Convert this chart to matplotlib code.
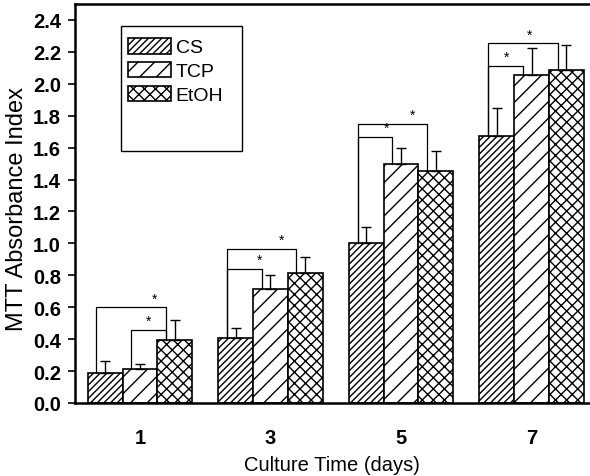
import matplotlib
matplotlib.use("Agg")
import matplotlib.pyplot as plt
from matplotlib.patches import Rectangle
import numpy as np

days = ["1", "3", "5", "7"]
series = ["CS", "TCP", "EtOH"]
cs_vals = [0.19, 0.41, 1.00, 1.67]
tcp_vals = [0.21, 0.715, 1.495, 2.055]
etoh_vals = [0.395, 0.815, 1.455, 2.085]
cs_err = [0.075, 0.06, 0.10, 0.18]
tcp_err = [0.035, 0.09, 0.105, 0.17]
etoh_err = [0.125, 0.10, 0.125, 0.16]

# significance brackets: (day index, from series, to series, bracket height, star position fraction)
brackets = [
    (0, 0, 2, 0.60, 0.84), (0, 1, 2, 0.46, 0.49),
    (1, 0, 2, 0.965, 0.78), (1, 0, 1, 0.842, 0.93),
    (2, 0, 2, 1.748, 0.79), (2, 0, 1, 1.667, 0.82),
    (3, 0, 2, 2.254, 0.59), (3, 0, 1, 2.113, 0.54),
]

plt.rcParams['font.family'] = ['Liberation Sans', 'DejaVu Sans']
plt.rcParams['hatch.linewidth'] = 1.0

fig = plt.figure(figsize=(5.9, 4.77), dpi=100)
ax = fig.add_axes([75/590, 1-404/477, 514/590, 399/477])

x = np.arange(len(days))
w = 0.266
vals = [cs_vals, tcp_vals, etoh_vals]
errs = [cs_err, tcp_err, etoh_err]
hatches = ['/////', '//', 'xxx']
for i, (v, e, h, lab) in enumerate(zip(vals, errs, hatches, series)):
    xs = x + (i - 1) * w
    ax.bar(xs, v, width=w, facecolor='white', edgecolor='black', hatch=h,
           linewidth=1.2, label=lab, zorder=2)
    ax.errorbar(xs, v, yerr=[np.zeros(len(v)), e], fmt='none', ecolor='black',
                elinewidth=1.0, capsize=3.5, capthick=1.0, zorder=3)

for g, a, b, hgt, sf in brackets:
    xa = x[g] + (a - 1) * w - w / 2 + 0.25 * w
    xb = x[g] + (b - 1) * w - w / 2 + 0.25 * w
    ya = vals[a][g]
    yb = vals[b][g]
    ax.plot([xa, xa, xb, xb], [ya, hgt, hgt, yb], color='black', lw=0.9, zorder=4)
    ax.text(xa + sf * (xb - xa), hgt + 0.012, '*', ha='center', va='bottom',
            fontsize=10, zorder=5)

ax.set_xlim(-0.497, 3.44)
ax.set_ylim(0, 2.5)
ticks = np.arange(0, 2.41, 0.2)
ax.set_yticks(ticks)
ax.set_yticklabels([f"{t:.1f}" for t in ticks], fontweight='bold')
ax.set_xticks(x)
ax.set_xticklabels(days, fontweight='bold')
ax.tick_params(axis='x', length=0, pad=18, labelsize=14.5)
ax.tick_params(axis='y', direction='out', length=5, width=1.2, labelsize=14.5, pad=5)
for s in ax.spines.values():
    s.set_linewidth(1.8)
ax.spines['right'].set_visible(False)

ax.set_xlabel("Culture Time (days)", fontsize=14.5, labelpad=6)
ax.set_ylabel("MTT Absorbance Index", fontsize=17)
ax.yaxis.set_label_coords(-0.092, 0.488)

# legend
leg = ax.legend(loc='upper left', bbox_to_anchor=((128-75)/514, (404-39)/399),
                frameon=False, fontsize=14, handlelength=2.2, handleheight=0.85,
                handletextpad=0.25, labelspacing=0.28, borderpad=0, borderaxespad=0)
ax.add_patch(Rectangle(((121-75)/514, (404-152)/399), (242-121)/514, (152-27)/399,
                       transform=ax.transAxes, fill=False, edgecolor='black',
                       linewidth=1.0, zorder=6))

fig.savefig("out.png", dpi=100)
